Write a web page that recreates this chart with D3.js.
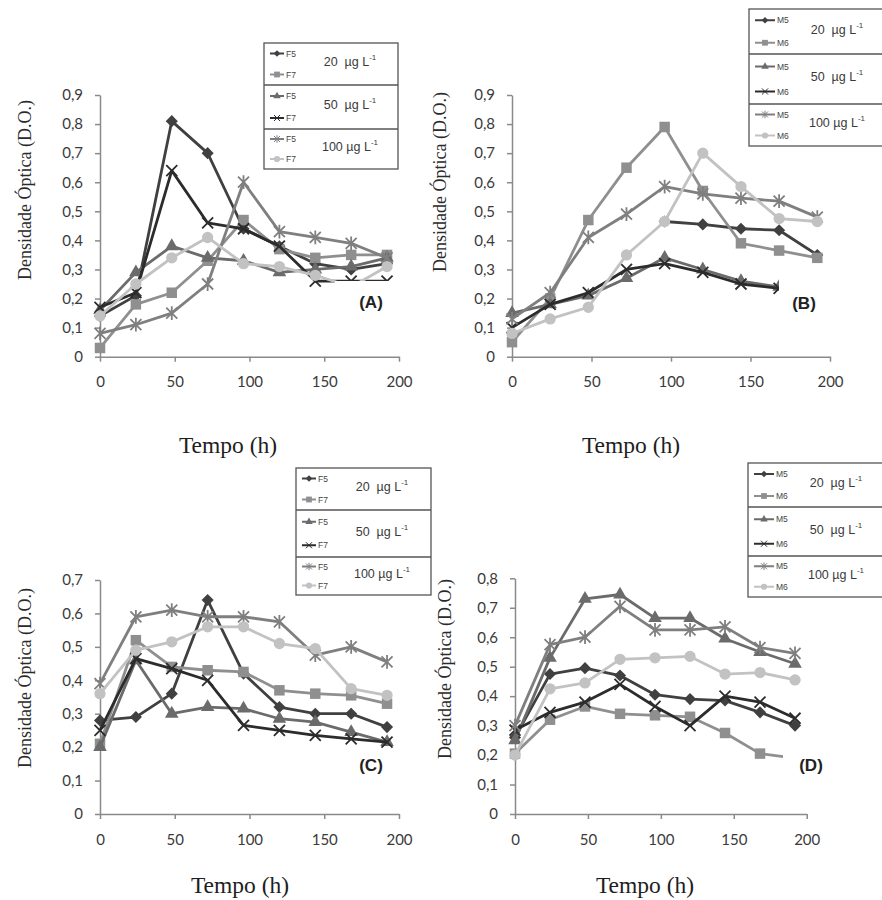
<!DOCTYPE html>
<html>
<head>
<meta charset="utf-8">
<script src="https://cdn.jsdelivr.net/npm/d3@7"></script>
<style>
  body { margin: 0; background: #fff; }
  svg { display: block; }
</style>
</head>
<body>
<svg id="chart" width="882" height="900"></svg>
<script>
// sampling times (h) and axis ticks
const hours = [0, 24, 48, 72, 96, 120, 144, 168, 192];
const xTicks = [0, 50, 100, 150, 200];
const concLabels = ["20", "50", "100"];

// (A) strains F5 / F7
const a_F5_20  = [0.14, 0.21, 0.81, 0.70, 0.44, 0.38, 0.32, 0.30, 0.32];
const a_F7_20  = [0.03, 0.18, 0.22, 0.33, 0.47, 0.37, 0.34, 0.35, 0.35];
const a_F5_50  = [0.16, 0.29, 0.38, 0.34, 0.33, 0.29, 0.30, 0.31, 0.34];
const a_F7_50  = [0.17, 0.22, 0.64, 0.46, 0.44, 0.38, 0.26, 0.26, 0.26];
const a_F5_100 = [0.08, 0.11, 0.15, 0.25, 0.60, 0.43, 0.41, 0.39, 0.34];
const a_F7_100 = [0.14, 0.25, 0.34, 0.41, 0.32, 0.31, 0.28, 0.24, 0.31];

// (B) strains M5 / M6
const b_M5_20  = [null, null, null, null, 0.465, 0.455, 0.44, 0.435, 0.35];
const b_M6_20  = [0.05, 0.20, 0.47, 0.65, 0.79, 0.57, 0.39, 0.365, 0.34];
const b_M5_50  = [0.15, 0.18, 0.21, 0.27, 0.34, 0.30, 0.26, 0.24, 0.22];
const b_M6_50  = [0.10, 0.18, 0.22, 0.30, 0.32, 0.29, 0.25, 0.235, 0.21];
const b_M5_100 = [0.13, 0.22, 0.41, 0.49, 0.585, 0.56, 0.545, 0.535, 0.48];
const b_M6_100 = [0.08, 0.13, 0.17, 0.35, 0.465, 0.70, 0.585, 0.475, 0.465];

// (C) strains F5 / F7
const c_F5_20  = [0.28, 0.29, 0.36, 0.64, 0.42, 0.32, 0.30, 0.30, 0.26];
const c_F7_20  = [0.21, 0.52, 0.44, 0.43, 0.425, 0.37, 0.36, 0.355, 0.33];
const c_F5_50  = [0.20, 0.46, 0.30, 0.32, 0.315, 0.285, 0.275, 0.245, 0.215];
const c_F7_50  = [0.25, 0.465, 0.435, 0.40, 0.265, 0.25, 0.235, 0.225, 0.215];
const c_F5_100 = [0.39, 0.59, 0.61, 0.59, 0.59, 0.575, 0.475, 0.50, 0.455];
const c_F7_100 = [0.36, 0.49, 0.515, 0.56, 0.56, 0.51, 0.495, 0.375, 0.355];

// (D) strains M5 / M6
const d_M5_20  = [0.26, 0.475, 0.495, 0.47, 0.405, 0.39, 0.385, 0.345, 0.30];
const d_M6_20  = [0.205, 0.32, 0.365, 0.34, 0.335, 0.33, 0.275, 0.205, 0.19];
const d_M5_50  = [0.25, 0.53, 0.73, 0.745, 0.665, 0.665, 0.595, 0.55, 0.51];
const d_M6_50  = [0.285, 0.345, 0.38, 0.44, 0.365, 0.30, 0.40, 0.38, 0.325];
const d_M5_100 = [0.30, 0.575, 0.60, 0.705, 0.625, 0.625, 0.635, 0.565, 0.545];
const d_M6_100 = [0.20, 0.425, 0.445, 0.525, 0.53, 0.535, 0.475, 0.48, 0.455];

// one style per series position (same order in every panel)
const shapes = ["diamond", "square", "triangle", "cross", "star", "circle"];
const colors = ["#404040", "#8f8f8f", "#6b6b6b", "#2c2c2c", "#7f7f7f", "#c2c2c2"];

const svg = d3.select("#chart");
const fmt = d => d === 0 ? "0" : d3.format(".1f")(d).replace(".", ",");

function drawMarker(g, shape, color, k) {
    const s = 5.5 * k;
    if (shape === "diamond") {
        g.append("path").attr("d", `M0,${-s * 1.1}L${s * 1.1},0L0,${s * 1.1}L${-s * 1.1},0Z`).attr("fill", color);
    } else if (shape === "square") {
        g.append("path").attr("d", d3.symbol(d3.symbolSquare, 110 * k * k)()).attr("fill", color);
    } else if (shape === "triangle") {
        g.append("path").attr("d", d3.symbol(d3.symbolTriangle, 80 * k * k)()).attr("fill", color);
    } else if (shape === "circle") {
        g.append("path").attr("d", d3.symbol(d3.symbolCircle, 100 * k * k)()).attr("fill", color);
    } else {
        let d = `M${-s},${-s}L${s},${s}M${-s},${s}L${s},${-s}`;
        if (shape === "star") d += `M0,${-s * 1.25}L0,${s * 1.25}`;
        g.append("path").attr("d", d).attr("fill", "none")
            .attr("stroke", color).attr("stroke-width", k < 1 ? 1 : 1.8);
    }
}

function drawPanel(p) {
    const x = d3.scaleLinear().domain([0, 200]).range([p.x0, p.x1]);
    const y = d3.scaleLinear().domain([0, p.yMax]).range([p.y0, p.yTop]);
    const yTicks = y.ticks(Math.round(p.yMax * 10));

    const gy = svg.append("g")
        .attr("transform", `translate(${p.x0},0)`)
        .call(d3.axisLeft(y).tickValues(yTicks).tickSize(5).tickSizeOuter(0).tickPadding(12).tickFormat(fmt));
    const gx = svg.append("g")
        .attr("transform", `translate(0,${p.y0})`)
        .call(d3.axisBottom(x).tickValues(xTicks).tickSize(5).tickSizeOuter(0));
    gx.selectAll(".tick text").attr("y", p.tickLabelDy).attr("dy", "0.35em");

    [gx, gy].forEach(g => {
        g.selectAll("path, line").attr("stroke", "#8a8a8a").attr("stroke-width", 1.5);
        g.selectAll("text").attr("fill", "#3a3a3a")
            .style("font-family", "Lato, 'Open Sans', sans-serif").style("font-size", "15px");
    });

    const line = d3.line()
        .defined(d => d.v != null)
        .x(d => x(d.h))
        .y(d => y(d.v));

    p.series.forEach((vals, i) => {
        const pts = hours.map((h, j) => ({ h: h, v: vals[j] }));
        svg.append("path")
            .datum(pts)
            .attr("d", line)
            .attr("fill", "none")
            .attr("stroke", colors[i])
            .attr("stroke-width", 2.8)
            .attr("stroke-linejoin", "round");
        pts.filter(d => d.v != null).forEach(d => {
            const m = svg.append("g").attr("transform", `translate(${x(d.h)},${y(d.v)})`);
            drawMarker(m, shapes[i], colors[i], 1);
        });
    });

    // panel letter on a white patch
    svg.append("rect")
        .attr("x", p.label.box[0]).attr("y", p.label.box[1])
        .attr("width", p.label.box[2]).attr("height", p.label.box[3])
        .attr("fill", "#fff");
    svg.append("text")
        .attr("x", p.label.x).attr("y", p.label.y)
        .attr("text-anchor", "middle").attr("dominant-baseline", "central")
        .style("font-family", "'Liberation Sans', Arial, sans-serif")
        .style("font-size", "17px").style("font-weight", "bold")
        .attr("fill", "#222")
        .text(`(${p.id})`);

    // legend
    const L = p.legend;
    const lg = svg.append("g");
    lg.append("rect")
        .attr("x", L.x).attr("y", L.rows[0])
        .attr("width", L.w).attr("height", L.rows[3] - L.rows[0])
        .attr("fill", "#fff").attr("stroke", "#555").attr("stroke-width", 1.3);
    [1, 2].forEach(r => {
        lg.append("line")
            .attr("x1", L.x).attr("x2", L.x + L.w)
            .attr("y1", L.rows[r]).attr("y2", L.rows[r])
            .attr("stroke", "#555").attr("stroke-width", 1.3);
    });
    concLabels.forEach((c, r) => {
        const top = L.rows[r], h = L.rows[r + 1] - L.rows[r];
        [0, 1].forEach(k => {
            const i = r * 2 + k;
            const cy = top + h * (k === 0 ? 0.25 : 0.75);
            lg.append("line")
                .attr("x1", L.x + 6).attr("x2", L.x + 6 + L.sample)
                .attr("y1", cy).attr("y2", cy)
                .attr("stroke", colors[i]).attr("stroke-width", 2);
            const m = lg.append("g").attr("transform", `translate(${L.x + 6 + L.sample / 2},${cy})`);
            drawMarker(m, shapes[i], colors[i], 0.55);
            lg.append("text")
                .attr("x", L.x + 8 + L.sample).attr("y", cy)
                .attr("dominant-baseline", "central")
                .style("font-family", "'Liberation Sans', Arial, sans-serif")
                .style("font-size", "8.5px")
                .attr("fill", "#444")
                .text(p.names[k]);
        });
        const t = lg.append("text")
            .attr("x", L.x + L.textX).attr("y", top + h / 2 - 2)
            .attr("text-anchor", "middle").attr("dominant-baseline", "central")
            .style("font-family", "'Liberation Sans', Arial, sans-serif")
            .style("font-size", "12.5px")
            .attr("fill", "#3a3a3a");
        t.append("tspan").text(c + (c === "100" ? " " : "  ")).attr("xml:space", "preserve");
        t.append("tspan").text("µg L");
        t.append("tspan").text("-1").attr("dy", -5).style("font-size", "8px");
    });

    // axis titles
    svg.append("text")
        .attr("transform", `translate(${p.yTitle[0]},${p.yTitle[1]}) rotate(-90)`)
        .attr("text-anchor", "middle").attr("dominant-baseline", "central")
        .style("font-family", "'Liberation Serif', 'Times New Roman', serif")
        .style("font-size", "18px")
        .attr("fill", "#2a2a2a")
        .text("Densidade Óptica (D.O.)");
    svg.append("text")
        .attr("x", p.xTitle[0]).attr("y", p.xTitle[1])
        .attr("text-anchor", "middle")
        .style("font-family", "'Liberation Serif', 'Times New Roman', serif")
        .style("font-size", "23.5px")
        .attr("fill", "#1e1e1e")
        .text("Tempo (h)");
}

const panels = [
    { id: "A", names: ["F5", "F7"], series: [a_F5_20, a_F7_20, a_F5_50, a_F7_50, a_F5_100, a_F7_100],
      x0: 100, x1: 399, y0: 356.7, yTop: 95, yMax: 0.9, tickLabelDy: 25,
      legend: { x: 264, w: 134, rows: [43, 85, 129, 169], sample: 14, textX: 86 },
      label: { x: 371, y: 302, box: [335, 281, 66, 42] },
      yTitle: [25, 190], xTitle: [228, 453] },
    { id: "B", names: ["M5", "M6"], series: [b_M5_20, b_M6_20, b_M5_50, b_M6_50, b_M5_100, b_M6_100],
      x0: 512, x1: 830, y0: 356.7, yTop: 95, yMax: 0.9, tickLabelDy: 25,
      legend: { x: 749, w: 140, rows: [9, 54, 104, 146], sample: 20, textX: 88 },
      label: { x: 804, y: 303, box: [779, 272, 56, 48] },
      yTitle: [440, 182], xTitle: [631, 453] },
    { id: "C", names: ["F5", "F7"], series: [c_F5_20, c_F7_20, c_F5_50, c_F7_50, c_F5_100, c_F7_100],
      x0: 100, x1: 399, y0: 814, yTop: 580, yMax: 0.7, tickLabelDy: 26,
      legend: { x: 296, w: 135, rows: [468, 510, 557, 595], sample: 14, textX: 86 },
      label: { x: 371, y: 765, box: [348, 750, 50, 32] },
      yTitle: [25, 678], xTitle: [240, 893] },
    { id: "D", names: ["M5", "M6"], series: [d_M5_20, d_M6_20, d_M5_50, d_M6_50, d_M5_100, d_M6_100],
      x0: 515, x1: 806.7, y0: 814, yTop: 578.3, yMax: 0.8, tickLabelDy: 26,
      legend: { x: 748, w: 140, rows: [463, 507, 556, 597], sample: 20, textX: 88 },
      label: { x: 811, y: 765, box: [783, 741, 56, 44] },
      yTitle: [445, 669], xTitle: [645, 893] }
];

panels.forEach(drawPanel);
</script>
</body>
</html>
